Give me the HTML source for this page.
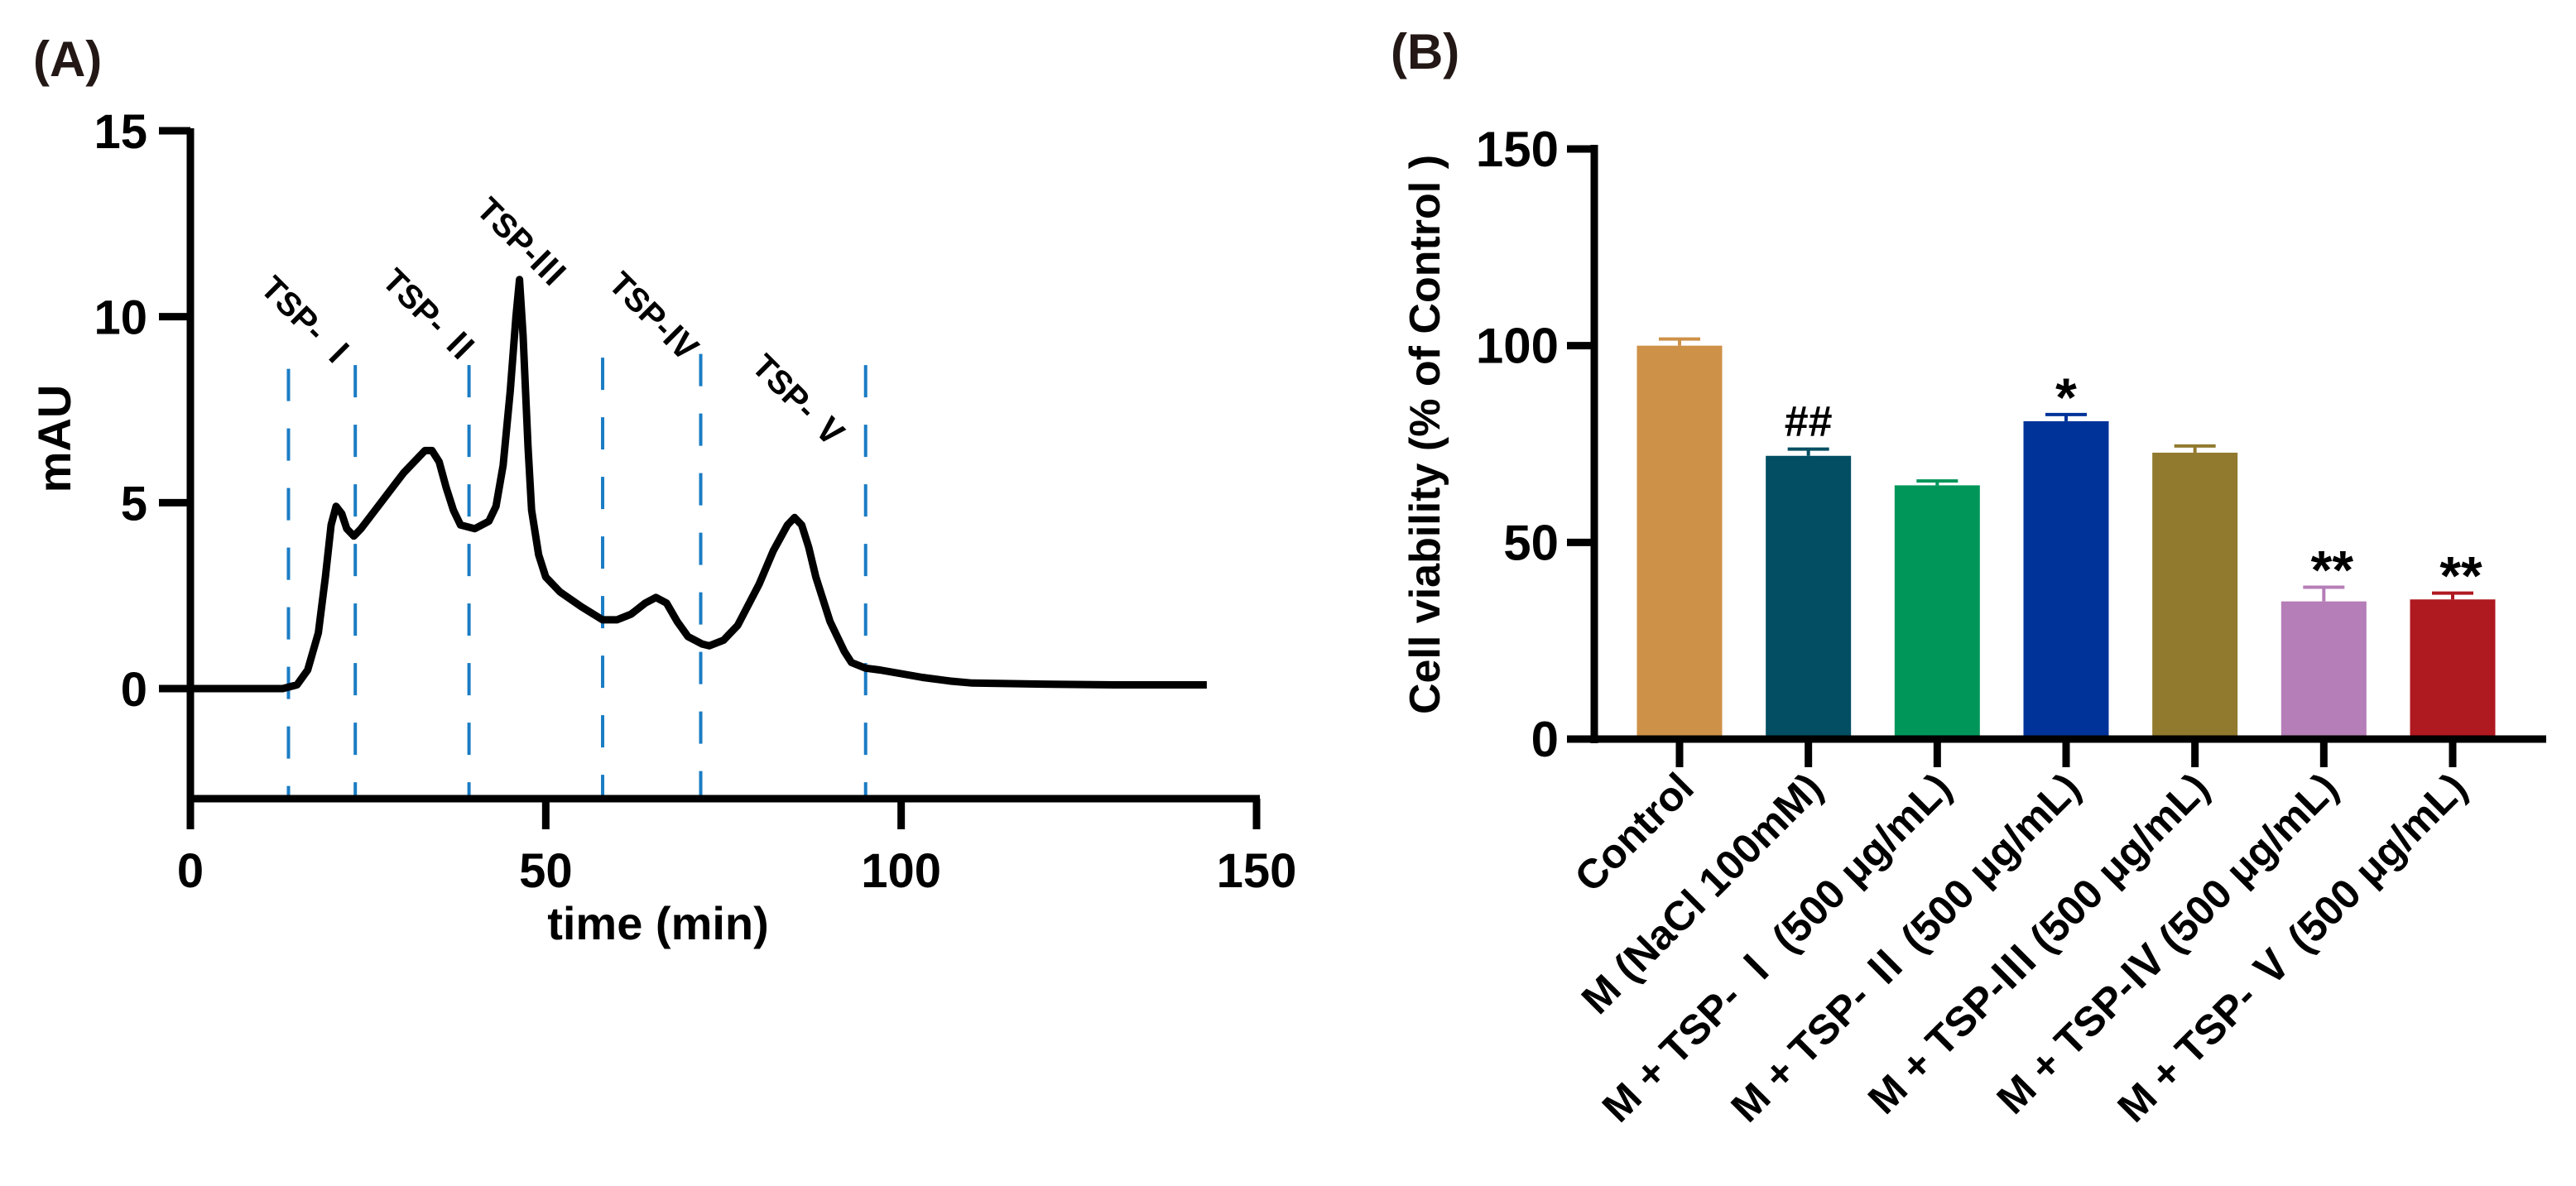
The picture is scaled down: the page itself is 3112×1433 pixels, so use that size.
<!DOCTYPE html>
<html><head><meta charset="utf-8"><style>
html,body{margin:0;padding:0;background:#fff}
svg{display:block}
text{font-family:"Liberation Sans","Noto Sans CJK SC",sans-serif;font-weight:bold;fill:#000}
</style></head><body>
<svg id="fig" width="3112" height="1433" viewBox="0 0 3112 1433" xmlns="http://www.w3.org/2000/svg">
<text x="40" y="92" font-size="60" style="fill:#231815">(A)</text>
<text x="1680" y="83" font-size="60" style="fill:#231815">(B)</text>
<g id="A"></g>
<g id="B"></g>
</svg>
<script>
// ---- Panel A data ----
const timeVals = [0,13,15,16.5,18,19,19.8,20.5,21.3,22,23,24,26,28,30,32,33,34,35,36,37,38,40,42,43,44,45,45.8,46.3,46.8,47.5,48,49,50,52,55,58,60,62,64,65.5,67,68.5,70,72,73,75,77,80,82,84,85,86,87,88,90,92,93,95,97,100,103,107,110,120,130,143];
const mauVals  = [0,0,0.1,0.5,1.5,3,4.4,4.9,4.7,4.3,4.1,4.3,4.8,5.3,5.8,6.2,6.4,6.4,6.1,5.4,4.8,4.4,4.3,4.5,4.9,6.0,8.0,10.0,11.0,9.5,6.5,4.8,3.6,3.0,2.6,2.2,1.85,1.85,2.0,2.3,2.45,2.3,1.8,1.4,1.2,1.15,1.3,1.7,2.8,3.7,4.4,4.6,4.4,3.8,3.0,1.8,1.0,0.7,0.55,0.5,0.4,0.3,0.2,0.15,0.12,0.1,0.1];
const fracBounds = [13.8,23.2,39.2,58,71.8,95];
const fracTops = [8.6,8.7,8.7,8.9,9.0,8.7];
const fracNames = ["TSP- Ⅰ","TSP- Ⅱ","TSP-Ⅲ","TSP-Ⅳ","TSP- Ⅴ"];
const fracLabelX = [15.5,32.6,45.4,64,84.6];
const fracLabelY = [9.6,9.8,11.8,9.8,7.5];
const xTicksA = [0,50,100,150];
const yTicksA = [0,5,10,15];

// ---- Panel B data ----
const groups = ["Control","M (NaCl 100mM)","M + TSP- Ⅰ (500 μg/mL)","M + TSP- Ⅱ (500 μg/mL)","M + TSP-Ⅲ (500 μg/mL)","M + TSP-Ⅳ (500 μg/mL)","M + TSP- Ⅴ (500 μg/mL)"];
const viability = [100,72,64.5,80.8,72.8,35,35.5];
const errors = [1.7,1.7,1.1,1.7,1.7,3.6,1.6];
const marks = ["","##","","*","","**","**"];
const barColors = ["#CE9148","#034E63","#00965A","#003399","#917A2E","#B57EB8","#AF1920"];
const yTicksB = [0,50,100,150];

const NS="http://www.w3.org/2000/svg";
function mk(parent,tag,attrs,txt){const e=document.createElementNS(NS,tag);for(const k in attrs)e.setAttribute(k,attrs[k]);if(txt!==undefined)e.textContent=txt;parent.appendChild(e);return e;}

// Panel A
const A=document.getElementById('A');
const ax=t=>230+t*(1518-230)/150;
const ay=v=>832-v*(832-158)/15;
let e;
for(let i=0;i<fracBounds.length;i++){
  e=mk(A,'line',{x1:ax(fracBounds[i]),x2:ax(fracBounds[i]),y1:ay(fracTops[i]),y2:967,stroke:'#1A7CC4','stroke-width':4,'stroke-dasharray':'39,33'});
  
  
}
let d='';
for(let i=0;i<timeVals.length;i++){d+=(i?'L':'M')+ax(timeVals[i]).toFixed(1)+','+ay(mauVals[i]).toFixed(1);}
e=mk(A,'path',{d:d,fill:'none',stroke:'#000','stroke-width':9,'stroke-linejoin':'round'});


for(let i=0;i<fracNames.length;i++){
  const x=ax(fracLabelX[i]),y=ay(fracLabelY[i]);
  e=mk(A,'text',{x:x,y:y,'font-size':40,'text-anchor':'middle',transform:`rotate(45 ${x} ${y})`},fracNames[i]);
  
  
}
e=mk(A,'line',{x1:230,x2:230,y1:155,y2:969,stroke:'#000','stroke-width':9});


e=mk(A,'line',{x1:226,x2:1522,y1:965,y2:965,stroke:'#000','stroke-width':9});


yTicksA.forEach(v=>{
  mk(A,'line',{x1:192,x2:230,y1:ay(v),y2:ay(v),stroke:'#000','stroke-width':9});
  e=mk(A,'text',{x:178,y:ay(v)+21,'font-size':58,'text-anchor':'end'},v);
  
  
});
xTicksA.forEach(v=>{
  mk(A,'line',{x1:ax(v),x2:ax(v),y1:965,y2:1002,stroke:'#000','stroke-width':9});
  e=mk(A,'text',{x:ax(v),y:1072,'font-size':58,'text-anchor':'middle'},v);
  
  
});
e=mk(A,'text',{x:795,y:1135,'font-size':56,'text-anchor':'middle'},'time (min)');


e=mk(A,'text',{x:85,y:530,'font-size':56,'text-anchor':'middle',transform:'rotate(-90 85 530)'},'mAU');



// Panel B
const B=document.getElementById('B');
const X0=1556;
const by=v=>893-v*(893-180)/150;
const bx=i=>X0+473+i*(1407-473)/6;
const bw=103;
for(let i=0;i<groups.length;i++){
  const c=bx(i);
  e=mk(B,'line',{x1:c,x2:c,y1:by(viability[i]),y2:by(viability[i]+errors[i]),stroke:barColors[i],'stroke-width':4});
  
  
  mk(B,'line',{x1:c-25,x2:c+25,y1:by(viability[i]+errors[i]),y2:by(viability[i]+errors[i]),stroke:barColors[i],'stroke-width':4});
  e=mk(B,'rect',{x:c-bw/2,y:by(viability[i]),width:bw,height:by(0)-by(viability[i]),fill:barColors[i]});
  
  
  if(marks[i]){
    e=mk(B,'text',{x:c+(marks[i]=='**'?10:0),y:by(viability[i]+errors[i])-16+(marks[i]=='##'?0:18),'font-size':marks[i]=='##'?52:66,'text-anchor':'middle'},marks[i]);
    
    
  }
  mk(B,'line',{x1:c,x2:c,y1:893,y2:927,stroke:'#000','stroke-width':9});
  const lx=c+20,ly=955;
  e=mk(B,'text',{x:lx,y:ly,'font-size':50,'text-anchor':'end',transform:`rotate(-45 ${lx} ${ly})`},groups[i]);
  
  
}
e=mk(B,'line',{x1:X0+370,x2:X0+370,y1:175,y2:898,stroke:'#000','stroke-width':9});


e=mk(B,'line',{x1:X0+366,x2:X0+1520,y1:893,y2:893,stroke:'#000','stroke-width':9});


yTicksB.forEach(v=>{
  mk(B,'line',{x1:X0+337,x2:X0+370,y1:by(v),y2:by(v),stroke:'#000','stroke-width':9});
  e=mk(B,'text',{x:X0+327,y:by(v)+21,'font-size':60,'text-anchor':'end'},v);
  
  
});
e=mk(B,'text',{x:X0+183,y:525,'font-size':52,'text-anchor':'middle',transform:`rotate(-90 ${X0+183} 525)`},'Cell viability (% of Control )');


</script>
</body></html>
